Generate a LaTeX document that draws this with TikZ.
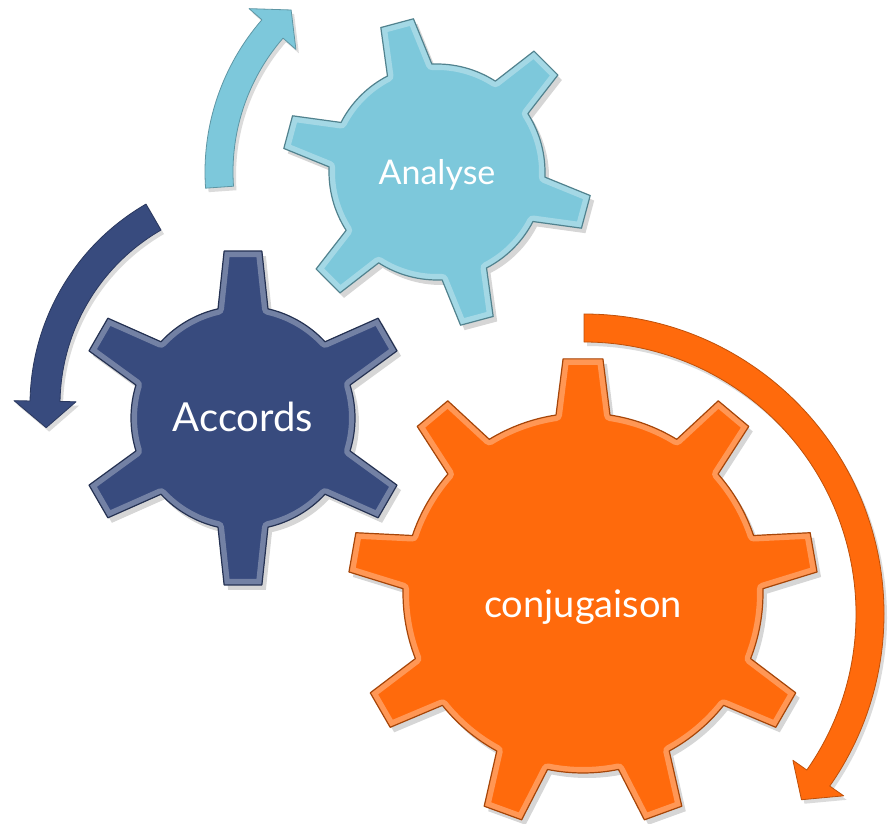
\documentclass[tikz,border=0pt]{standalone}
\usepackage{fontspec}
\setmainfont{Lato}
\definecolor{lb}{HTML}{7DC8DB}
\definecolor{nv}{HTML}{384B7E}
\definecolor{og}{HTML}{FF6A0C}

% center, n teeth, offset angle, tip radius, body radius, base half width, tip half width, colour
\newcommand\mkgear[8]{%
\begin{scope}[shift={(#1)}]
\pgfmathsetmacro\gstep{360/#2}%
\pgfmathtruncatemacro\gnm{#2-1}%
\pgfmathsetmacro\gdb{asin(#6/#5)}%
\pgfmathsetmacro\gdt{atan(#7/#4)}%
\def\gpth{(#3-\gdb:#5) \foreach \k [evaluate=\k as \a using #3+\k*\gstep] in {0,...,\gnm} { -- (\a-\gdb:#5) -- (\a-\gdt:#4) -- (\a+\gdt:#4) -- (\a+\gdb:#5) arc[start angle=\a+\gdb, end angle=\a+\gstep-\gdb, radius=#5] } -- cycle}%
\fill[black,opacity=.16,shift={(4,-5)}] \gpth;
\fill[#8] \gpth;
\begin{scope}\clip \gpth; \draw[#8!45!white,line width=12,opacity=.55,line join=round] \gpth; \end{scope}
\draw[#8!65!black,line width=1.2,line join=round] \gpth;
\end{scope}}

% center, mid radius, half width, start angle, head base angle, tip angle, head half width, colour
\newcommand\mkarrow[8]{%
\begin{scope}[shift={(#1)}]
\pgfmathsetmacro\aro{#2+#3}\pgfmathsetmacro\ari{#2-#3}%
\pgfmathsetmacro\arho{#2+#7}\pgfmathsetmacro\arhi{#2-#7}%
\def\apth{(#4:\aro) arc[start angle=#4,end angle=#5,radius=\aro] -- (#5:\arho) -- (#6:#2) -- (#5:\arhi) -- (#5:\ari) arc[start angle=#5,end angle=#4,radius=\ari] -- cycle}%
\fill[black,opacity=.14,shift={(3,-4)}] \apth;
\fill[#8] \apth;
\draw[#8!75!black,line width=0.8,line join=round] \apth;
\end{scope}}

\tikzset{lbl/.style={text=white,inner sep=0pt,anchor=base}}

\begin{document}
\begin{tikzpicture}[x=1pt,y=1pt]
\fill[white] (0,0) rectangle (889,823);
\useasboundingbox (0,0) rectangle (889,823);

% circular arrows
\mkarrow{437,651}{218}{14}{184}{139}{132}{31}{lb}
\mkarrow{262,418}{217}{15}{120}{179}{186}{31}{nv}
\mkarrow{584,209}{286}{14}{90}{-35}{-40.5}{31}{og}

% gears
\mkgear{243,405}{6}{90}{168}{112}{25}{19}{nv}
\mkgear{437,651}{6}{105}{155}{108}{23}{17}{lb}
\mkgear{583,230}{9}{90}{235}{180}{27}{20}{og}

% labels
\node[lbl,font=\fontsize{40}{48}\selectfont] (accords) at (243,391) {Accords};
\node[lbl,font=\fontsize{34}{40}\selectfont] (analyse) at (437,638) {Analyse};
\node[lbl,font=\fontsize{38}{46}\selectfont] (conj) at (583,206) {conjugaison};
\end{tikzpicture}
\end{document}
